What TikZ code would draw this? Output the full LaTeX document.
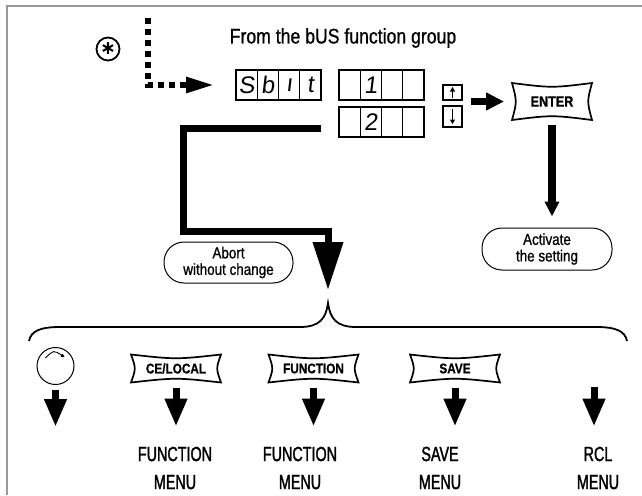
\documentclass[tikz,border=0pt]{standalone}
\usepackage{fontspec}
\setmainfont{Liberation Sans}[FakeStretch=0.84,FakeBold=0.9]
\newfontfamily\narrowfont{Liberation Sans}[FakeStretch=0.7,FakeBold=1.5]
\newfontfamily\segfont{Liberation Sans}[FakeSlant=0.12]
\newfontfamily\symfont{DejaVu Sans}
\usetikzlibrary{arrows.meta,calc,positioning}

\begin{document}
\begin{tikzpicture}[x=1pt,y=-1pt,
  frame/.style={draw=black!40,line width=2pt},
  cell/.style={draw,line width=1.3pt,minimum width=21.25pt,minimum height=30pt,
               inner sep=0pt,outer sep=0pt,font=\segfont\fontsize{24}{24}\selectfont},
  udbox/.style={draw,line width=1.3pt,minimum width=19pt,inner sep=0pt,outer sep=0pt},
  key/.style={inner sep=0pt,outer sep=0pt,font=\bfseries\fontsize{14}{14}\selectfont},
  rim/.style={line width=1.7pt,line join=miter},
  pill/.style={draw,line width=1pt,rounded corners=20pt,minimum width=129pt,
               minimum height=41pt,align=center,inner sep=0pt,
               font=\fontsize{16}{16.5}\selectfont},
  menu/.style={align=center,inner sep=0pt,font=\narrowfont\fontsize{20.5}{28}\selectfont},
  dashline/.style={line width=5.5pt,dash pattern=on 6pt off 5pt,
                   -{Triangle[length=28pt,width=15pt]}},
  fatarrow/.style={line width=7pt,-{Triangle[length=18pt,width=17pt]}},
  dropline/.style={line width=7pt,line join=miter,-{Triangle[length=48pt,width=29pt]}},
  menuarrow/.style={line width=7pt,-{Triangle[length=28pt,width=21pt]}}
]
  \useasboundingbox (0,0) rectangle (642,495);
  \draw[frame] (7,495) -- (7,6) -- (642,6);

  % entry from the bUS group
  \node[circle,draw,line width=1.8pt,inner sep=0pt,minimum size=23pt] (star) at (108,49)
    {\symfont\bfseries\fontsize{19}{19}\selectfont ∗};
  \node[font=\fontsize{21}{21}\selectfont] (title) at (343,38) {From the bUS function group};
  \coordinate (dtop) at (148,18);

  % displays
  \foreach \t [count=\i] in {S,b,ı,t}
    \node[cell] (s\i) at ({236+21.25*(\i-0.5)},85) {\t};
  \foreach \t [count=\i] in {,1,,}
    \node[cell] (a\i) at ({339+21.25*(\i-0.5)},85) {\t};
  \foreach \t [count=\i] in {,2,,}
    \node[cell] (b\i) at ({339+21.25*(\i-0.5)},122) {\t};
  \node[udbox,minimum height=15pt] (up) at (452.5,92.5) {};
  \node[udbox,minimum height=21pt] (dn) at (452.5,116.5) {};
  \draw[line width=1.8pt,-{Triangle[length=4.5pt,width=5pt]}]
    ([yshift=2.5pt]up.south) -- ([yshift=-2pt]up.north);
  \draw[line width=1.8pt,-{Triangle[length=4.5pt,width=5pt]}]
    ([yshift=-3pt]dn.north) -- ([yshift=3pt]dn.south);

  % keys
  \node[key,minimum width=80pt,minimum height=37pt,font=\bfseries\fontsize{15}{15}\selectfont]
    (enter) at (552,101.5) {ENTER};
  \node[key,minimum width=90pt,minimum height=28pt] (ce) at (176,368.5) {CE/LOCAL};
  \node[key,minimum width=90pt,minimum height=28pt] (fn) at (313.5,368.5) {FUNCTION};
  \node[key,minimum width=90pt,minimum height=28pt] (save) at (455,368.5) {SAVE};
  \foreach \k in {enter,ce,fn,save}
    \draw[rim] (\k.north west) .. controls ($(\k.north)+(0,5)$) .. (\k.north east)
      .. controls ($(\k.east)+(-5,0)$) .. (\k.south east)
      .. controls ($(\k.south)+(0,-5)$) .. (\k.south west)
      .. controls ($(\k.west)+(5,0)$) .. cycle;
  \node[circle,draw,line width=1pt,minimum size=37pt,inner sep=0pt] (knob) at (55.5,366) {};
  \draw[line width=0.9pt,-{Triangle[length=3.5pt,width=3.5pt]}]
    ($(knob)+(-10,-8)$) .. controls ($(knob)+(-2,-16)$) .. ($(knob)+(9,-9)$);

  \node[pill] (abort) at (228.5,262.5) {Abort\\without change};
  \node[pill,minimum width=130pt,minimum height=42pt] (act) at (547,249) {Activate\\the setting};

  % brace
  \coordinate (btip) at (328,303);
  \draw[line width=1.8pt] (29,341) .. controls (31,331) and (40,327) .. (60,327) -- (300,327)
    .. controls (320,327) and (326,318) .. (btip)
    .. controls (330,318) and (336,327) .. (356,327) -- (596,327)
    .. controls (616,327) and (625,331) .. (627,341);

  \node[menu] (m1) at (175,468) {FUNCTION\\MENU};
  \node[menu] (m2) at (300,468) {FUNCTION\\MENU};
  \node[menu] (m3) at (440,468) {SAVE\\MENU};
  \node[menu] (m4) at (598,468) {RCL\\MENU};
  \coordinate (kend) at (53,427);
  \coordinate (rcl) at (594,382);

  % connectors
  \draw[dashline,shorten >=22pt] (dtop) |- (s1.west);
  \draw[fatarrow,shorten <=9pt,shorten >=8pt] (dn.east |- enter.west) -- (enter.west);
  \draw[fatarrow,-{Triangle[length=15pt,width=14pt]},line width=8pt,shorten <=5pt,shorten >=11pt]
    (enter.south) -- (enter.south |- act.north);
  \coordinate (ab0) at (321,128);
  \coordinate (ab1) at (183.5,231.5);
  \draw[dropline,shorten >=13pt] (ab0) -| (ab1) -| (btip);
  \draw[menuarrow,shorten <=5pt] (knob.south) -- (knob.south |- kend);
  \draw[menuarrow,shorten <=5pt,shorten >=20pt] (ce.south) -- (ce.south |- m1.north);
  \draw[menuarrow,shorten <=5pt,shorten >=20pt] (fn.south) -- (fn.south |- m2.north);
  \draw[menuarrow,shorten <=5pt,shorten >=20pt] (save.south) -- (save.south |- m3.north);
  \draw[menuarrow,shorten <=5pt,shorten >=20pt] (rcl) -- (rcl |- m4.north);
\end{tikzpicture}
\end{document}
